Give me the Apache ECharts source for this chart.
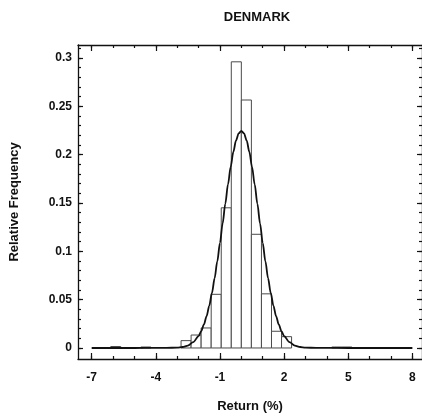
<!DOCTYPE html>
<html>
<head>
<meta charset="utf-8">
<script src="https://cdn.jsdelivr.net/npm/echarts@6/dist/echarts.min.js"></script>
<style>
  html, body { margin: 0; padding: 0; background: #fff; }
  #chart { width: 422px; height: 419px; }
</style>
</head>
<body>
<div id="chart"></div>
<script>
// Histogram of daily returns (bin edges in %, relative frequency)
const binLeft  = [-6.11, -4.70, -2.82, -2.35, -1.88, -1.41, -0.94, -0.47, 0.00, 0.47, 0.94, 1.41, 1.88, 4.23, 4.70];
const binRight = [-5.64, -4.23, -2.35, -1.88, -1.41, -0.94, -0.47, 0.00, 0.47, 0.94, 1.41, 1.88, 2.35, 4.70, 5.17];
const freq     = [0.0015, 0.001, 0.0076, 0.0134, 0.0207, 0.0555, 0.145, 0.296, 0.2565, 0.1176, 0.056, 0.0173, 0.0117, 0.001, 0.001];

// Fitted normal curve, sampled points (return %, relative frequency)
const curveX = [-7, -5, -4, -3.5, -3, -2.75, -2.5, -2.25,
                -2, -1.875, -1.75, -1.625, -1.5, -1.375, -1.25, -1.125, -1, -0.875, -0.75, -0.625, -0.5, -0.375, -0.25, -0.125,
                0, 0.125, 0.25, 0.375, 0.5, 0.625, 0.75, 0.875, 1, 1.125, 1.25, 1.375, 1.5, 1.625, 1.75, 1.875, 2,
                2.25, 2.5, 2.75, 3, 3.5, 4, 5, 8];
const curveY = [0, 0, 0.00005, 0.0001, 0.0004, 0.001, 0.0025, 0.006,
                0.0123, 0.0175, 0.0243, 0.0330, 0.0439, 0.0569, 0.0722, 0.0896, 0.1087, 0.1288, 0.1493, 0.1691, 0.1872, 0.2027, 0.2146, 0.2220,
                0.2245, 0.2220, 0.2146, 0.2027, 0.1872, 0.1691, 0.1493, 0.1288, 0.1087, 0.0896, 0.0722, 0.0569, 0.0439, 0.0330, 0.0243, 0.0175, 0.0123,
                0.006, 0.0025, 0.001, 0.0004, 0.0001, 0.00005, 0, 0];

// Axis ticks
const xMajor = [-7, -4, -1, 2, 5, 8];
const xMinor = [-7, -6, -5, -4, -3, -2, -1, 0, 1, 2, 3, 4, 5, 6, 7, 8];
const yMajor = [0, 0.05, 0.1, 0.15, 0.2, 0.25, 0.3];
const yMinor = [0, 0.01, 0.02, 0.03, 0.04, 0.05, 0.06, 0.07, 0.08, 0.09, 0.1, 0.11, 0.12, 0.13, 0.14, 0.15,
                0.16, 0.17, 0.18, 0.19, 0.2, 0.21, 0.22, 0.23, 0.24, 0.25, 0.26, 0.27, 0.28, 0.29, 0.3, 0.31];

const X_MIN = -7.64, X_MAX = 8.45;
const Y_MIN = -0.0114, Y_MAX = 0.3134;
const FONT = 'Liberation Sans, Arial, sans-serif';
const INK = '#111';

const bars = binLeft.map((l, i) => [l, binRight[i], freq[i]]);
const curve = curveX.map((x, i) => [x, curveY[i]]);

function xAxisDef(pos, ticks, len, showLine, withLabels) {
  return {
    type: 'value', position: pos, min: X_MIN, max: X_MAX,
    axisLine: { show: showLine, onZero: false, lineStyle: { color: INK, width: 1.3 } },
    axisTick: { show: true, inside: true, length: len, customValues: ticks, lineStyle: { color: INK, width: 1.2 } },
    axisLabel: withLabels
      ? { show: true, customValues: ticks, margin: 13, fontFamily: FONT, fontWeight: 'bold', fontSize: 12, color: INK }
      : { show: false },
    splitLine: { show: false }
  };
}
function yAxisDef(pos, ticks, len, showLine, withLabels) {
  return {
    type: 'value', position: pos, min: Y_MIN, max: Y_MAX,
    axisLine: { show: showLine, onZero: false, lineStyle: { color: INK, width: 1.3 } },
    axisTick: { show: true, inside: true, length: len, customValues: ticks, lineStyle: { color: INK, width: 1.2 } },
    axisLabel: withLabels
      ? { show: true, customValues: ticks, margin: 6, fontFamily: FONT, fontWeight: 'bold', fontSize: 12, color: INK }
      : { show: false },
    splitLine: { show: false }
  };
}

const xBottom = xAxisDef('bottom', xMajor, 6, true, true);
xBottom.name = 'Return (%)';
xBottom.nameLocation = 'middle';
xBottom.nameGap = 41;
xBottom.nameTextStyle = { fontFamily: FONT, fontWeight: 'bold', fontSize: 13, color: INK };

const yLeft = yAxisDef('left', yMajor, 5, true, true);
yLeft.name = 'Relative Frequency';
yLeft.nameLocation = 'middle';
yLeft.nameGap = 57;
yLeft.nameTextStyle = { fontFamily: FONT, fontWeight: 'bold', fontSize: 13, color: INK };

const chart = echarts.init(document.getElementById('chart'), null, { renderer: 'canvas' });
chart.setOption({
  animation: false,
  backgroundColor: '#fff',
  title: {
    text: 'DENMARK', left: 252, top: 6, textAlign: 'center',
    textStyle: { fontFamily: FONT, fontWeight: 'bold', fontSize: 13, color: INK }
  },
  grid: { left: 77, right: 0, top: 45, bottom: 60 },
  xAxis: [
    xBottom,
    xAxisDef('bottom', xMinor, 3, false, false),
    xAxisDef('top', xMajor, 6, true, false),
    xAxisDef('top', xMinor, 3, false, false)
  ],
  yAxis: [
    yLeft,
    yAxisDef('left', yMinor, 3, false, false),
    yAxisDef('right', yMajor, 5, true, false),
    yAxisDef('right', yMinor, 3, false, false)
  ],
  series: [
    {
      type: 'custom',
      xAxisIndex: 0, yAxisIndex: 0,
      data: bars,
      encode: { x: [0, 1], y: 2 },
      renderItem: function (params, api) {
        const p0 = api.coord([api.value(0), 0]);
        const p1 = api.coord([api.value(1), api.value(2)]);
        return {
          type: 'rect',
          shape: { x: p0[0], y: p1[1], width: p1[0] - p0[0], height: p0[1] - p1[1] },
          style: { fill: '#fff', stroke: '#4a4a4a', lineWidth: 1 }
        };
      },
      z: 2
    },
    {
      type: 'line',
      xAxisIndex: 0, yAxisIndex: 0,
      data: curve,
      smooth: 0.3,
      smoothMonotone: 'x',
      symbol: 'none',
      lineStyle: { color: INK, width: 1.8 },
      z: 3
    }
  ]
});
</script>
</body>
</html>
